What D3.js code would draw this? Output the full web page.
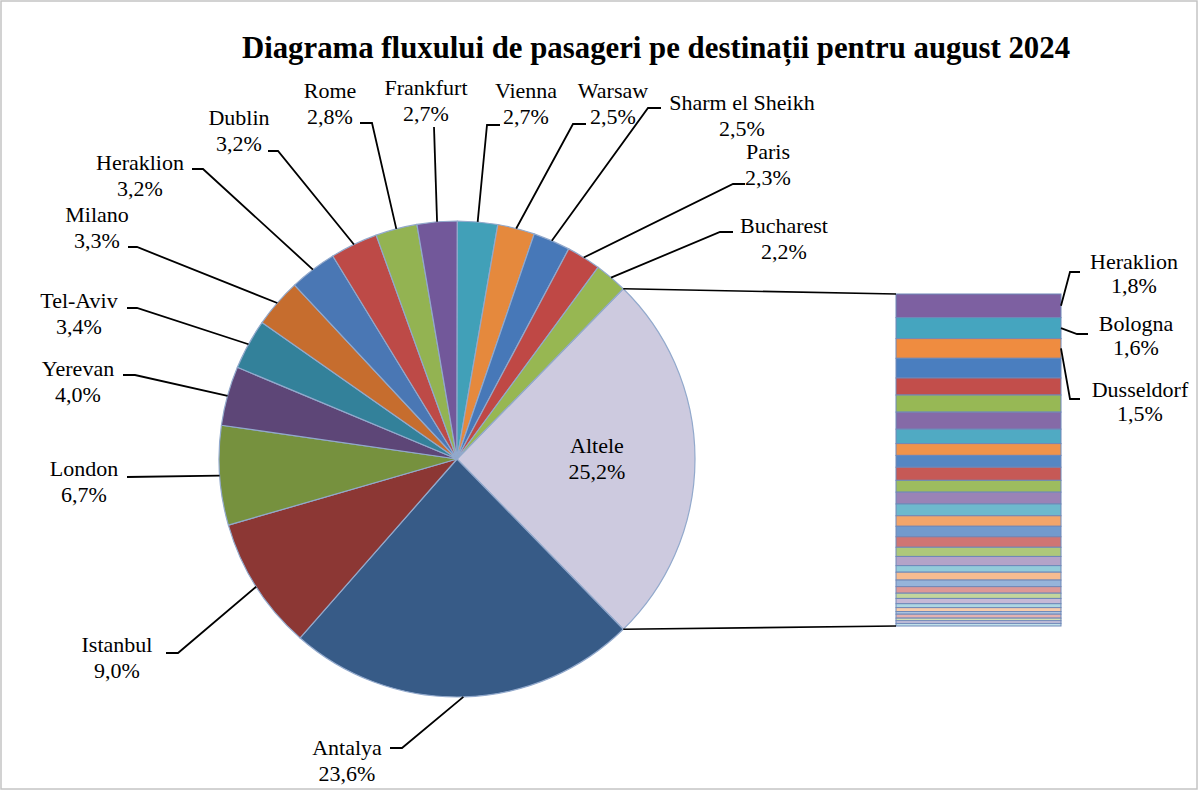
<!DOCTYPE html>
<html><head><meta charset="utf-8">
<script src="https://cdn.jsdelivr.net/npm/d3@7"></script>
<style>html,body{margin:0;padding:0;background:#fff;}svg{display:block;}</style>
</head><body>
<svg id="chart" width="1199" height="791"></svg>
<script>
// ---------- DATA ----------
const title = "Diagrama fluxului de pasageri pe destinații pentru august 2024";
const pieNames = ["Altele","Antalya","Istanbul","London","Yerevan","Tel-Aviv","Milano","Heraklion","Dublin","Rome","Frankfurt","Vienna","Warsaw","Sharm el Sheikh","Paris","Bucharest"];
const pieValues = [25.2,23.6,9.0,6.7,4.0,3.4,3.3,3.2,3.2,2.8,2.7,2.7,2.5,2.5,2.3,2.2];
const barNames = ["Heraklion","Bologna","Dusseldorf"];
const barValues = [1.8,1.6,1.5,1.5,1.3,1.3,1.3,1.1,0.9,0.9,1.0,0.9,0.9,0.9,0.8,0.8,0.8,0.7,0.7,0.5,0.6,0.5,0.5,0.4,0.4,0.3,0.3,0.2,0.3,0.2,0.2,0.2];

// ---------- STYLE / LAYOUT ----------
const pieColors = ["#CDCADF","#375B87","#8C3734","#76913E","#5D4677","#33819A","#C66D2E","#4A77B4","#BD4A47","#93B352","#72589A","#41A0B8","#E5893D","#4778B8","#BF4845","#97B752"];
const barBase = ["#7D60A1","#45A5BF","#EF8C40","#4A7EBF","#C24E4B","#97B855"];
const barTint = [0, 0.06, 0.22, 0.42, 0.56, 0.66];
const font = "'Liberation Serif','Times New Roman',serif";
const fs = 22;
const cx = 457, cy = 459, R = 238;
const bar = {x0: 896, x1: 1061, y0: 294, y1: 626};
const lh = 25.5;
const layout = {
  "Antalya":        {x:347, y:755, knee:[402,748], stub:390},
  "Istanbul":       {x:117, y:652, knee:[178,653], stub:166},
  "London":         {x:84,  y:476, knee:[127,477], stub:127},
  "Yerevan":        {x:78,  y:376, knee:[135,375], stub:123},
  "Tel-Aviv":       {x:79,  y:308, knee:[137,308], stub:127},
  "Milano":         {x:97,  y:222, knee:[137,247], stub:128},
  "Heraklion":      {x:140, y:170, knee:[203,169], stub:192},
  "Dublin":         {x:239, y:125, knee:[278,151], stub:268},
  "Rome":           {x:330, y:98,  knee:[372,123], stub:360},
  "Frankfurt":      {x:426, y:95,  knee:[434,127], stub:434},
  "Vienna":         {x:526, y:98,  knee:[487,125], stub:500},
  "Warsaw":         {x:613, y:98,  knee:[573,124], stub:586},
  "Sharm el Sheikh":{x:742, y:110, knee:[648,108], stub:661},
  "Paris":          {x:768, y:159, knee:[733,184], stub:745},
  "Bucharest":      {x:784, y:233, knee:[720,232], stub:733}
};
const barLayout = [
  {x:1134, y:269, knee:[1070,272], stub:1080},
  {x:1136, y:331, knee:[1077,334], stub:1088},
  {x:1140, y:397, knee:[1070,399], stub:1080}
];

const fmt = v => v.toFixed(1).replace(".", ",") + "%";
const svg = d3.select("#chart");

svg.append("rect").attr("x",1).attr("y",1).attr("width",1196).attr("height",788)
  .attr("fill","#fff").attr("stroke","#c4c4c4").attr("stroke-width",1.5);

svg.append("text").attr("x",656).attr("y",58).attr("text-anchor","middle")
  .attr("font-family",font).attr("font-weight","bold").attr("font-size",30.8)
  .attr("fill","#000").text(title);

// ---------- PIE ----------
const total = d3.sum(pieValues);
const start = Math.PI/2 - Math.PI * pieValues[0] / total;
const pie = d3.pie().sort(null).value(d => d.v).startAngle(start).endAngle(start + 2*Math.PI);
const data = pieNames.map((n,i) => ({n, v: pieValues[i], c: pieColors[i]}));
const arcs = pie(data);
const arc = d3.arc().innerRadius(0).outerRadius(R);
const g = svg.append("g").attr("transform", `translate(${cx},${cy})`);
g.selectAll("path").data(arcs).join("path")
  .attr("d", arc).attr("fill", d => d.data.c)
  .attr("stroke", "#92A9CC").attr("stroke-width", 1.2).attr("stroke-linejoin","round");

const pt = (a, r) => [cx + r*Math.sin(a), cy - r*Math.cos(a)];

// leader lines + labels
const line = d3.line();
arcs.forEach(d => {
  const name = d.data.n;
  if (name === "Altele") {
    const t = svg.append("text").attr("font-family",font).attr("font-size",fs)
      .attr("text-anchor","middle").attr("fill","#000");
    t.append("tspan").attr("x",597).attr("y",453).text(name);
    t.append("tspan").attr("x",597).attr("y",453+lh).text(fmt(d.data.v));
    return;
  }
  const L = layout[name];
  const mid = (d.startAngle + d.endAngle)/2;
  const e = pt(mid, R);
  svg.append("path").attr("d", line([e, L.knee, [L.stub, L.knee[1]]]))
    .attr("fill","none").attr("stroke","#000").attr("stroke-width",1.8);
  const t = svg.append("text").attr("font-family",font).attr("font-size",fs)
    .attr("text-anchor","middle").attr("fill","#000");
  t.append("tspan").attr("x",L.x).attr("y",L.y).text(name);
  t.append("tspan").attr("x",L.x).attr("y",L.y+lh).text(fmt(d.data.v));
});

// ---------- BAR (second plot) ----------
const barSum = d3.sum(barValues);
const y = d3.scaleLinear().domain([0, barSum]).range([bar.y0, bar.y1]);
let acc = 0;
const segs = barValues.map((v,i) => { const s = {v, i, a: acc, b: acc + v}; acc += v; return s; });
svg.append("g").selectAll("rect").data(segs).join("rect")
  .attr("x", bar.x0).attr("width", bar.x1 - bar.x0)
  .attr("y", d => y(d.a)).attr("height", d => y(d.b) - y(d.a))
  .attr("fill", d => d3.interpolateRgb(barBase[d.i % 6], "#ffffff")(barTint[Math.floor(d.i/6)]))
  .attr("stroke", "#6F88B8").attr("stroke-width", 1);

// connector lines
const altArc = arcs[0];
svg.append("path").attr("d", line([pt(altArc.startAngle, R), [bar.x0, bar.y0]]))
  .attr("stroke","#000").attr("stroke-width",1.6).attr("fill","none");
svg.append("path").attr("d", line([pt(altArc.endAngle, R), [bar.x0, bar.y1]]))
  .attr("stroke","#000").attr("stroke-width",1.6).attr("fill","none");

// bar labels
barNames.forEach((n,i) => {
  const s = segs[i], L = barLayout[i];
  const e = [bar.x1, (y(s.a) + y(s.b))/2];
  svg.append("path").attr("d", line([e, L.knee, [L.stub, L.knee[1]]]))
    .attr("fill","none").attr("stroke","#000").attr("stroke-width",1.8);
  const t = svg.append("text").attr("font-family",font).attr("font-size",fs)
    .attr("text-anchor","middle").attr("fill","#000");
  t.append("tspan").attr("x",L.x).attr("y",L.y).text(n);
  t.append("tspan").attr("x",L.x).attr("y",L.y+lh-2).text(fmt(s.v));
});
</script>
</body></html>
